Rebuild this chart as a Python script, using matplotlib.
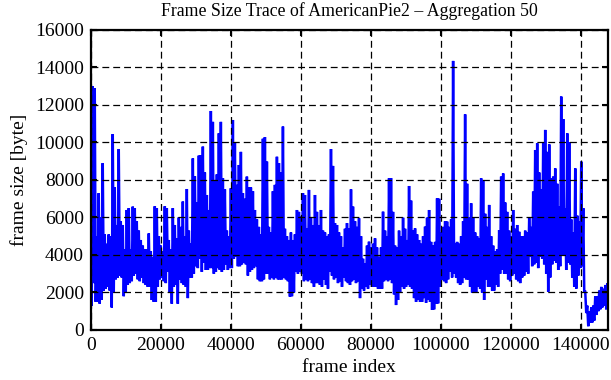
import numpy as np
import matplotlib
matplotlib.use("Agg")
import matplotlib.pyplot as plt

# High / low pairs of the aggregated frame size trace, read column by column
frame_size = [
    # 0 - ~25000
    10500, 1300, 13000, 2500, 12900, 1500, 5000, 1500, 7300, 1400,
    6000, 1600, 8900, 2100, 5100, 2200, 4600, 2300, 5100, 2100,
    5000, 1200, 10450, 2000, 7600, 2700, 5600, 2800, 9650, 2900,
    5800, 2800, 5600, 1800, 4300, 2000, 6400, 2400, 6500, 2500,
    4300, 2600, 6580, 2900, 6500, 3000, 5800, 2700, 5300, 2600,
    4800, 2800, 4500, 2500, 4300, 2400, 4300, 2300, 5150, 2300,
    4200, 1600, 3900, 1500, 6600, 1500, 6500, 2300, 5000, 2700,
    4500, 2800, 4200, 2600, 6600, 2500, 6500, 3100, 4800, 2000,
    4300, 1400, 6500, 2300, 5600, 2400, 4900, 1400,
    # ~25000 - ~49000
    6000, 2700, 5500, 2500, 6850, 2400, 5000, 2300, 7520, 1700,
    5300, 2800, 4600, 2800, 9150, 3000, 8200, 3400, 6800, 3300,
    9300, 3800, 9330, 3100, 9780, 3600, 8400, 3200, 7200, 3200,
    6400, 3300, 11680, 3300, 11100, 3000, 8000, 3100, 8300, 3300,
    10490, 3200, 11100, 3100, 8100, 3200, 7500, 3500, 5300, 3200,
    5000, 3300, 7560, 3300, 11200, 3800, 10000, 3900, 7740, 3400,
    8800, 3400, 9500, 3500, 7300, 3600, 7000, 3500, 8180, 2900,
    7600, 3100, 7600, 3200, 7400, 3300, 6400, 3400, 5900, 2700,
    5500, 2600, 5100, 2600, 10200, 2700,
    # ~49000 - ~74000
    10290, 3000, 8980, 3000, 5500, 2700, 5200, 2800, 7400, 2700,
    7740, 2800, 9240, 2700, 8900, 2700, 8400, 2700, 10850, 2800,
    5400, 2700, 5000, 2600, 4800, 1780, 5200, 1800, 4800, 2000,
    5100, 3100, 6400, 3000, 6300, 3100, 6040, 3000, 7300, 2600,
    7200, 2700, 5400, 2600, 7470, 2700, 6000, 2500, 5600, 2300,
    7200, 2500, 6300, 2500, 5600, 2400, 6400, 2300, 5300, 2700,
    5200, 2400, 5000, 2200, 5100, 3100, 9650, 2900, 8750, 2700,
    5700, 2800, 5600, 2500, 5200, 2600, 5000, 2300, 4400, 2800,
    5400, 2600, 5700, 2500, 5400, 2400,
    # ~74000 - ~98000
    7500, 2600, 6580, 2700, 5800, 2500, 5500, 2600, 5960, 1700,
    5000, 2200, 3800, 2100, 3560, 2300, 4500, 2200, 4710, 2400,
    4400, 2300, 4600, 2300, 4890, 2300, 4400, 2200, 3900, 2200,
    4400, 2200, 6310, 2600, 5300, 2700, 5000, 2600, 8090, 2700,
    8100, 2500, 6300, 1900, 4500, 1330, 4400, 1600, 5300, 2000,
    5000, 2300, 5990, 2200, 5400, 2300, 4800, 2400, 7680, 2300,
    6900, 2200, 5330, 1700, 5420, 1500, 5100, 1600, 4800, 1500,
    4600, 1500, 5000, 1700, 5510, 1450, 5990, 1600, 6400, 1500,
    4700, 1070, 4500, 1100, 4700, 1400,
    # ~98000 - ~123000
    7020, 1420, 7000, 2300, 5200, 2700, 5500, 2600, 5800, 2500,
    5780, 2700, 5500, 3100, 5900, 2800, 14350, 3000, 4600, 2800,
    4700, 2500, 4600, 2400, 5000, 2500, 5800, 2800, 11500, 2700,
    7800, 2700, 6000, 2300, 6760, 2000, 6000, 2000, 5200, 2000,
    5000, 2300, 4900, 2200, 8090, 2000, 8000, 1600, 6200, 2700,
    5500, 2300, 6670, 2300, 5000, 2100, 4500, 2100, 4200, 2400,
    4300, 2300, 5330, 3000, 8180, 3200, 8350, 3000, 6800, 3000,
    6300, 2700, 5300, 2600, 5000, 2900, 6400, 3000, 5400, 2700,
    5600, 2600, 5240, 2500, 5000, 2800,
    # ~123000 - end
    5000, 2900, 5300, 3100, 5200, 3000, 5990, 3900, 5500, 3400,
    7380, 3500, 9600, 3600, 9960, 3300, 8400, 3900, 7500, 3800,
    9960, 3500, 10670, 3000, 9500, 2040, 9900, 2800, 8100, 3500,
    8180, 3700, 8620, 3600, 7800, 3200, 6600, 3400, 12450, 4000,
    11250, 4000, 6500, 3200, 10490, 3600, 10000, 3500, 5900, 2800,
    5200, 2300, 8620, 2200, 6100, 2900, 5800, 3300, 8980, 3400,
    6500, 2040, 2040, 900, 1300, 200, 1000, 400, 1200, 400,
    1300, 500, 1800, 800, 1800, 1000, 2100, 1100, 2300, 1200,
    2200, 1300, 2400, 1100, 2500, 1400, 2500, 1500,
]
frame_step = 286
frame_index = np.arange(len(frame_size)) * frame_step

x_ticks = [0, 20000, 40000, 60000, 80000, 100000, 120000, 140000]
y_ticks = [0, 2000, 4000, 6000, 8000, 10000, 12000, 14000, 16000]
x_max = 147700

plt.rcParams['font.family'] = ['Liberation Serif', 'DejaVu Serif']

fig = plt.figure(figsize=(6.11, 3.80), dpi=100)
ax = fig.add_axes([0.1485, 0.1316, 0.8461, 0.7895])

ax.plot(frame_index, frame_size, color='#0000ff', lw=1.8, solid_joinstyle='miter')

ax.set_xlim(0, x_max)
ax.set_ylim(0, 16000)
ax.set_xticks(x_ticks)
ax.set_yticks(y_ticks)
ax.set_xticklabels([str(t) for t in x_ticks])
ax.set_yticklabels([str(t) for t in y_ticks])

ax.grid(True, color='black', lw=0.9, linestyle=(0, (5.5, 3.2)))
ax.set_axisbelow(False)
ax.tick_params(direction='in', length=4, width=1.5, top=True, right=True,
               labelsize=14, pad=5, colors='black')
for s in ax.spines.values():
    s.set_linewidth(1.6)

ax.set_title('Frame Size Trace of AmericanPie2 \u2013 Aggregation 50', fontsize=12.8, pad=10)
ax.set_xlabel('frame index', fontsize=14, labelpad=4)
ax.set_ylabel('frame size [byte]', fontsize=14, labelpad=5)

fig.savefig('out.png', dpi=100)
